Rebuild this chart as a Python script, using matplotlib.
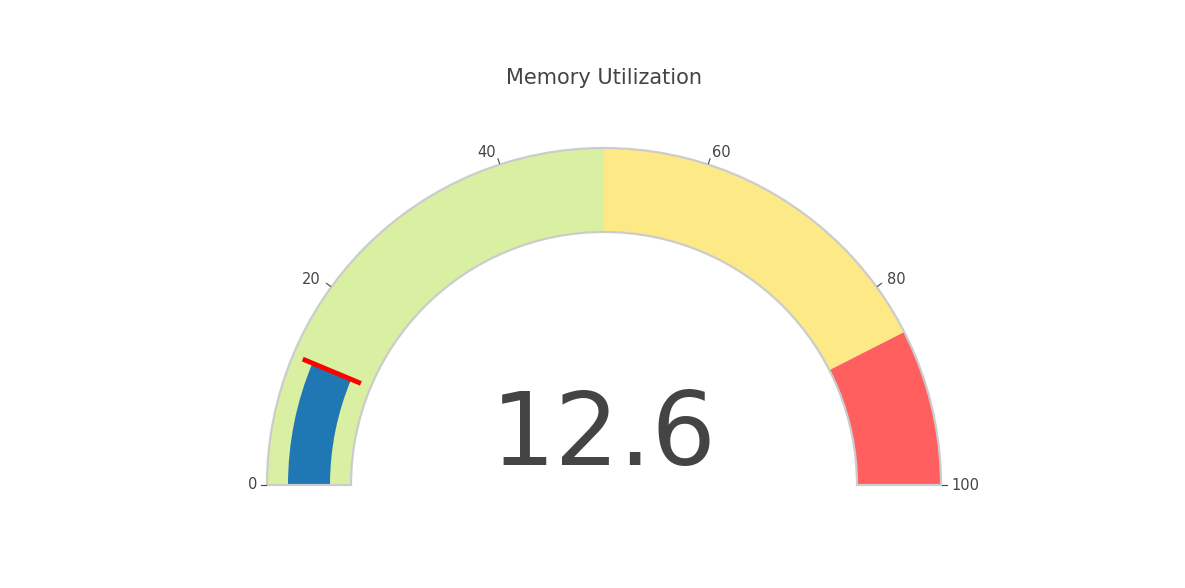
import numpy as np
import matplotlib.pyplot as plt
from matplotlib.patches import Wedge

value = 12.6
threshold = 12.6
title = "Memory Utilization"
step_ranges = [(0, 50), (50, 85), (85, 100)]
step_colors = ['#d9f0a3', '#fee987', '#ff5f5f']
tick_values = [0, 20, 40, 60, 80, 100]

W, H = 1185, 588
fig = plt.figure(figsize=(W / 100, H / 100), dpi=100)
ax = fig.add_axes([0, 0, 1, 1])
ax.set_xlim(0, W)
ax.set_ylim(0, H)
ax.set_aspect('equal')
ax.axis('off')

cx, cy = 604, H - 485
r_out, r_in = 337, 253
band = r_out - r_in


def ang(v):
    return 180 - 180 * v / 100


# steps
for (a, b), c in zip(step_ranges, step_colors):
    ax.add_patch(Wedge((cx, cy), r_out, ang(b), ang(a), width=band,
                       facecolor=c, edgecolor='none'))

# value bar
ax.add_patch(Wedge((cx, cy), r_in + band * 0.75, ang(value), ang(0), width=band * 0.5,
                   facecolor='#1f77b4', edgecolor='none'))

# border
ax.add_patch(Wedge((cx, cy), r_out, 0, 180, width=band,
                   facecolor='none', edgecolor='#cccccc', linewidth=1.6))

# threshold line
t = np.radians(ang(threshold))
r1, r2 = r_in + band * 0.125, r_in + band * 0.875
ax.plot([cx + r1 * np.cos(t), cx + r2 * np.cos(t)],
        [cy + r1 * np.sin(t), cy + r2 * np.sin(t)],
        color='red', linewidth=3.5, solid_capstyle='butt')

# ticks
for v in tick_values:
    t = np.radians(ang(v))
    ax.plot([cx + (r_out + 1) * np.cos(t), cx + (r_out + 6) * np.cos(t)],
            [cy + (r_out + 1) * np.sin(t), cy + (r_out + 6) * np.sin(t)],
            color='#444444', linewidth=0.8)
    rl = 347 if v in (0, 100) else 350
    ha = 'right' if v < 50 else 'left'
    ax.text(cx + rl * np.cos(t), cy + rl * np.sin(t), str(v), ha=ha, va='center',
            fontsize=10.5, color='#444444')

ax.text(cx, H - 78, title, ha='center', va='center', fontsize=15, color='#444444')
ax.text(cx, H - 465, f"{value}", ha='center', va='baseline', fontsize=73, color='#444444')

fig.savefig('out.png', dpi=100)
